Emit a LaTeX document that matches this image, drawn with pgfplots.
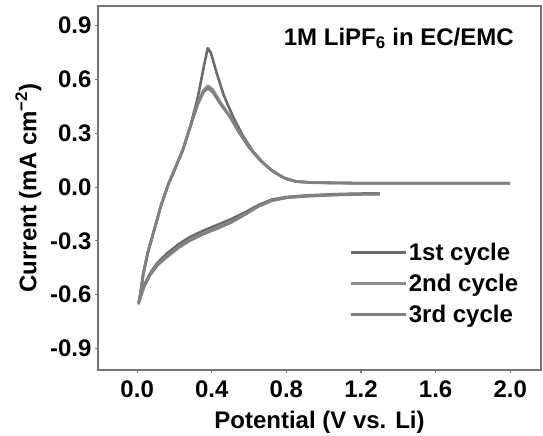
\documentclass[border=0pt]{standalone}
\usepackage{pgfplots}
\pgfplotsset{compat=1.18}
\usepackage{fontspec}
\setmainfont{Liberation Sans}
\newcommand{\bigf}{\fontsize{24}{28}\selectfont\bfseries}
\begin{document}
\begin{tikzpicture}
\begin{axis}[
  name=ax,
  scale only axis,
  width=443pt, height=364pt,
  xmin=-0.21, xmax=2.165,
  ymin=-1.02, ymax=1.01,
  xtick={0,0.4,0.8,1.2,1.6,2.0},
  ytick={-0.9,-0.6,-0.3,0,0.3,0.6,0.9},
  xticklabels={0.0,0.4,0.8,1.2,1.6,2.0},
  yticklabels={-0.9,-0.6,-0.3,0.0,0.3,0.6,0.9},
  tick align=outside,
  xtick pos=bottom, ytick pos=left,
  major tick length=3pt,
  every tick/.style={black!55, line width=1.2pt},
  axis line style={black!55, line width=1.6pt},
  tick label style={font=\bigf},
  xticklabel style={yshift=-4pt},
  label style={font=\bigf},
  /pgf/number format/assume math mode=true,
  xlabel={Potential (V vs. Li)},
  ylabel={Current (mA cm\textsuperscript{−2})},
  xlabel style={yshift=-7pt},
  ylabel style={yshift=2pt},
  legend style={at={(axis cs:1.12,-0.29)}, anchor=north west, draw=none, fill=none,
    font=\bigf, row sep=8pt, cells={anchor=west},
    /tikz/every even column/.append style={column sep=6pt}},
  legend image code/.code={\draw[#1] (0pt,0pt) -- (55pt,0pt);},
]
% 1st cycle
\addplot[black!58, line width=2.6pt, line join=round] coordinates {
(1.30,-0.035) (1.2,-0.036) (1.1,-0.038) (1.0,-0.042) (0.9,-0.047) (0.8,-0.055)
(0.72,-0.07) (0.65,-0.10) (0.58,-0.14) (0.5,-0.18) (0.42,-0.215) (0.35,-0.245)
(0.28,-0.28) (0.22,-0.32) (0.16,-0.37) (0.11,-0.42) (0.07,-0.48) (0.04,-0.54)
(0.02,-0.60) (0.008,-0.645)
(0.016,-0.60) (0.033,-0.48) (0.058,-0.36) (0.088,-0.25) (0.128,-0.10) (0.168,0.02)
(0.205,0.11) (0.245,0.21) (0.285,0.34) (0.325,0.50) (0.355,0.66) (0.378,0.775)
(0.395,0.75) (0.425,0.64) (0.465,0.51) (0.515,0.39) (0.565,0.29) (0.62,0.20)
(0.68,0.13) (0.74,0.08) (0.80,0.045) (0.86,0.03) (0.95,0.025) (1.2,0.022)
(1.6,0.022) (2.0,0.022)
};
% 2nd cycle
\addplot[black!45, line width=2.6pt, line join=round] coordinates {
(1.30,-0.038) (1.2,-0.039) (1.1,-0.041) (1.0,-0.045) (0.9,-0.05) (0.8,-0.058)
(0.72,-0.075) (0.65,-0.105) (0.58,-0.15) (0.5,-0.195) (0.42,-0.23) (0.35,-0.26)
(0.28,-0.295) (0.22,-0.335) (0.16,-0.385) (0.11,-0.43) (0.07,-0.485) (0.04,-0.545)
(0.02,-0.60) (0.008,-0.645)
(0.016,-0.60) (0.033,-0.48) (0.058,-0.36) (0.088,-0.25) (0.128,-0.10) (0.168,0.02)
(0.205,0.11) (0.245,0.21) (0.285,0.34) (0.325,0.47) (0.355,0.54) (0.38,0.565)
(0.405,0.545) (0.445,0.475) (0.495,0.40) (0.545,0.31) (0.60,0.225) (0.66,0.15)
(0.72,0.095) (0.78,0.055) (0.85,0.032) (0.95,0.025) (1.2,0.022)
(1.6,0.022) (2.0,0.022)
};
% 3rd cycle
\addplot[black!50, line width=2.6pt, line join=round] coordinates {
(1.30,-0.04) (1.2,-0.041) (1.1,-0.043) (1.0,-0.047) (0.9,-0.052) (0.8,-0.06)
(0.72,-0.077) (0.65,-0.108) (0.58,-0.152) (0.5,-0.2) (0.42,-0.235) (0.35,-0.265)
(0.28,-0.30) (0.22,-0.34) (0.16,-0.39) (0.11,-0.435) (0.07,-0.49) (0.04,-0.55)
(0.02,-0.61) (0.008,-0.65)
(0.016,-0.61) (0.033,-0.485) (0.058,-0.365) (0.088,-0.255) (0.128,-0.105) (0.168,0.015)
(0.205,0.105) (0.245,0.205) (0.285,0.335) (0.325,0.46) (0.355,0.53) (0.38,0.55)
(0.405,0.53) (0.445,0.465) (0.495,0.395) (0.545,0.305) (0.60,0.22) (0.66,0.148)
(0.72,0.093) (0.78,0.054) (0.85,0.031) (0.95,0.024) (1.2,0.021)
(1.6,0.021) (2.0,0.021)
};
\legend{1st cycle, 2nd cycle, 3rd cycle}
\node[anchor=east, font=\bigf, inner sep=0pt] at (axis cs:2.02,0.83) {1M LiPF\textsubscript{6} in EC/EMC};
\end{axis}
\pgfresetboundingbox
\useasboundingbox ([shift={(-98pt,-66pt)}]ax.south west) rectangle ([shift={(2pt,6pt)}]ax.north east);
\end{tikzpicture}
\end{document}
